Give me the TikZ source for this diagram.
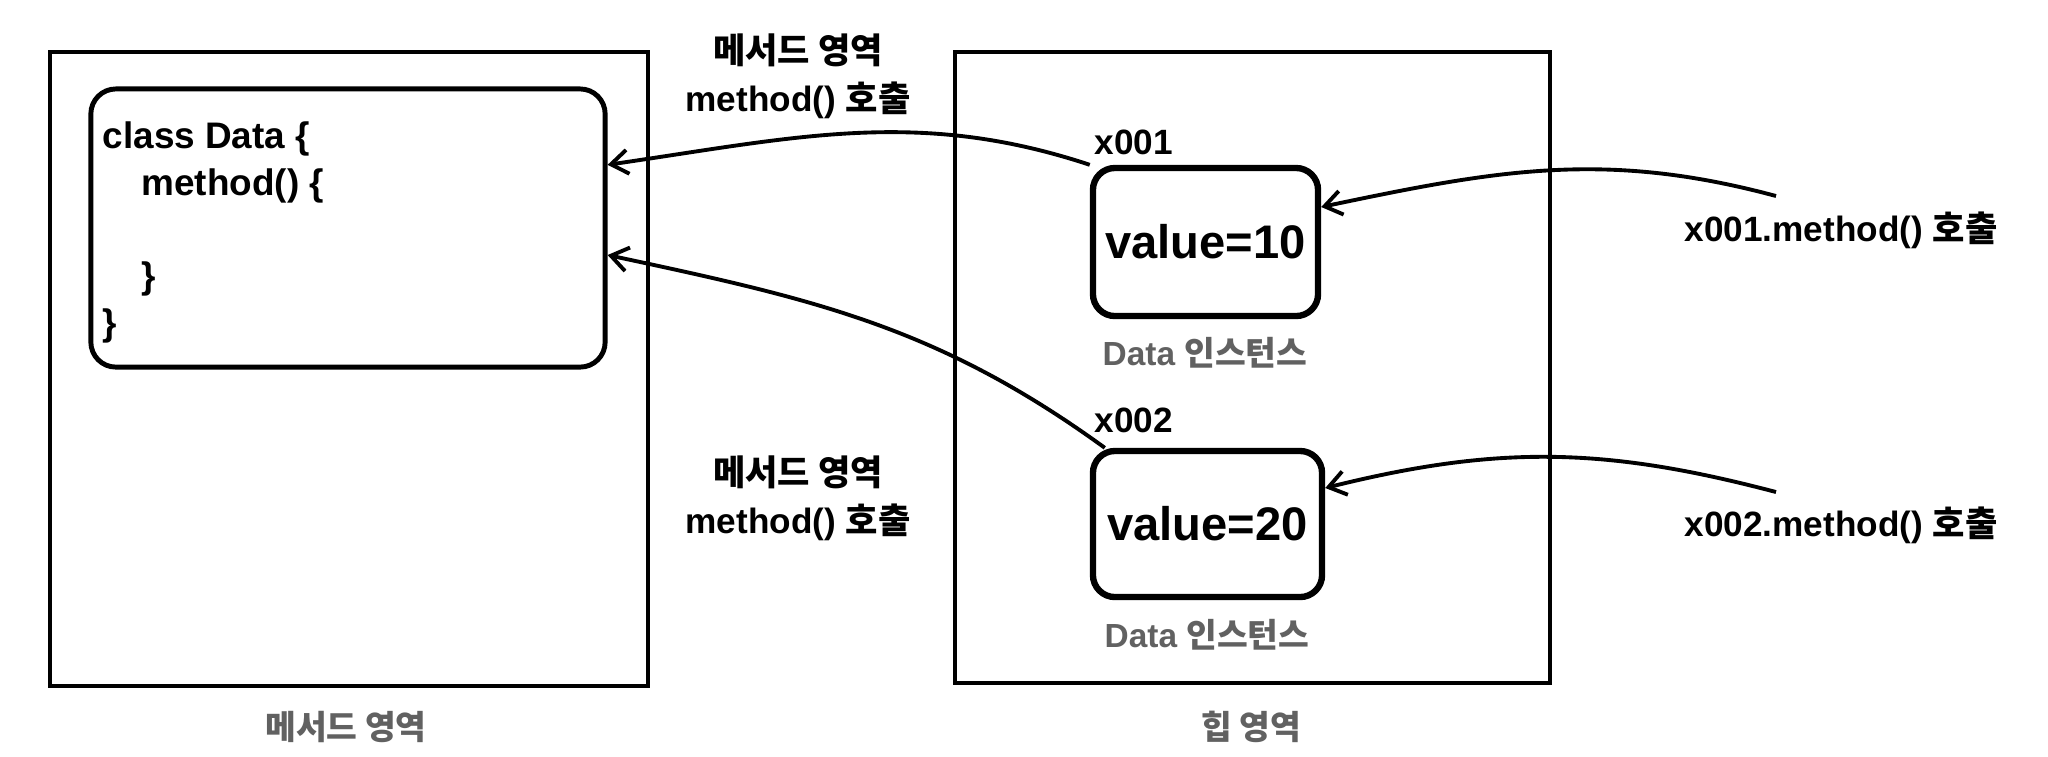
\documentclass[tikz,border=0pt]{standalone}
\usepackage{fontspec}
\setmainfont{Liberation Sans}
\newfontfamily\krfont{Noto Sans CJK KR}
\newcommand{\hgl}[1]{{\krfont #1}}
\usetikzlibrary{arrows.meta}

\begin{document}
\begin{tikzpicture}[x=0.01cm,y=-0.01cm,font=\bfseries\fontsize{10}{13.6}\selectfont,
  >={Straight Barb[length=1.7mm,width=2.4mm]},
  area/.style={draw,line width=1.2pt,inner sep=0},
  clsbox/.style={draw,line width=1.4pt,rounded corners=2.5mm,inner sep=0},
  obj/.style={draw,line width=1.8pt,rounded corners=2.2mm,font=\bfseries\fontsize{13.4}{16}\selectfont},
  code/.style={align=left,inner sep=0,font=\bfseries\fontsize{10.5}{13.3}\selectfont},
  lbl/.style={inner sep=0},
  grey/.style={inner sep=0,text=black!62,font=\bfseries\fontsize{9.5}{12}\selectfont},
  call/.style={->,line width=1.1pt}]
  \useasboundingbox (0,0) rectangle (2048,756);
  % method area and heap area
  \node[area,minimum width=5.98cm,minimum height=6.34cm] (marea) at (349,369) {};
  \node[area,minimum width=5.95cm,minimum height=6.31cm] (harea) at (1252.5,367.5) {};
  \node[grey] (mcap) at (346,727) {\hgl{메서드 영역}};
  \node[grey] (hcap) at (1251,727) {\hgl{힙 영역}};
  % class code
  \node[clsbox,minimum width=5.14cm,minimum height=2.78cm] (cls) at (348,228) {};
  \node[code,anchor=north west] (src) at (102,121)
    {class Data \{\\\hspace*{1.05em}method() \{\\\mbox{}\\\hspace*{1.05em}\}\\\}};
  % instances
  \node[obj,minimum width=2.25cm,minimum height=1.48cm] (v10) at (1205.5,242) {value=10};
  \node[obj,minimum width=2.29cm,minimum height=1.46cm] (v20) at (1207.5,524) {value=20};
  \node[lbl,anchor=west] (a10) at (1094,142) {x001};
  \node[lbl,anchor=west] (a20) at (1094,420) {x002};
  \node[grey] (i10) at (1205,353) {Data \hgl{인스턴스}};
  \node[grey] (i20) at (1207,635) {Data \hgl{인스턴스}};
  % call labels
  \node[lbl,align=center] (m10) at (798,76) {\hgl{메서드 영역}\\method() \hgl{호출}};
  \node[lbl,align=center] (m20) at (798,498) {\hgl{메서드 영역}\\method() \hgl{호출}};
  \node[lbl] (r10) at (1841,230) {x001.method() \hgl{호출}};
  \node[lbl] (r20) at (1841,525) {x002.method() \hgl{호출}};
  \coordinate (s10) at (1776,196);
  \coordinate (s20) at (1776,492);
  % arrows
  \draw[call] (v10.north west) .. controls (918,108) and (798,137) .. (cls.east |- v10.north);
  \draw[call] ([xshift=0.15cm]v20.north west) .. controls (937,326) and (813,299) .. ([yshift=-0.27cm]cls.east);
  \draw[call] (s10) .. controls (1605,150) and (1497,170) .. ([yshift=0.35cm]v10.east);
  \draw[call] (s20) .. controls (1605,447) and (1498,445) .. ([yshift=0.36cm]v20.east);
\end{tikzpicture}
\end{document}
